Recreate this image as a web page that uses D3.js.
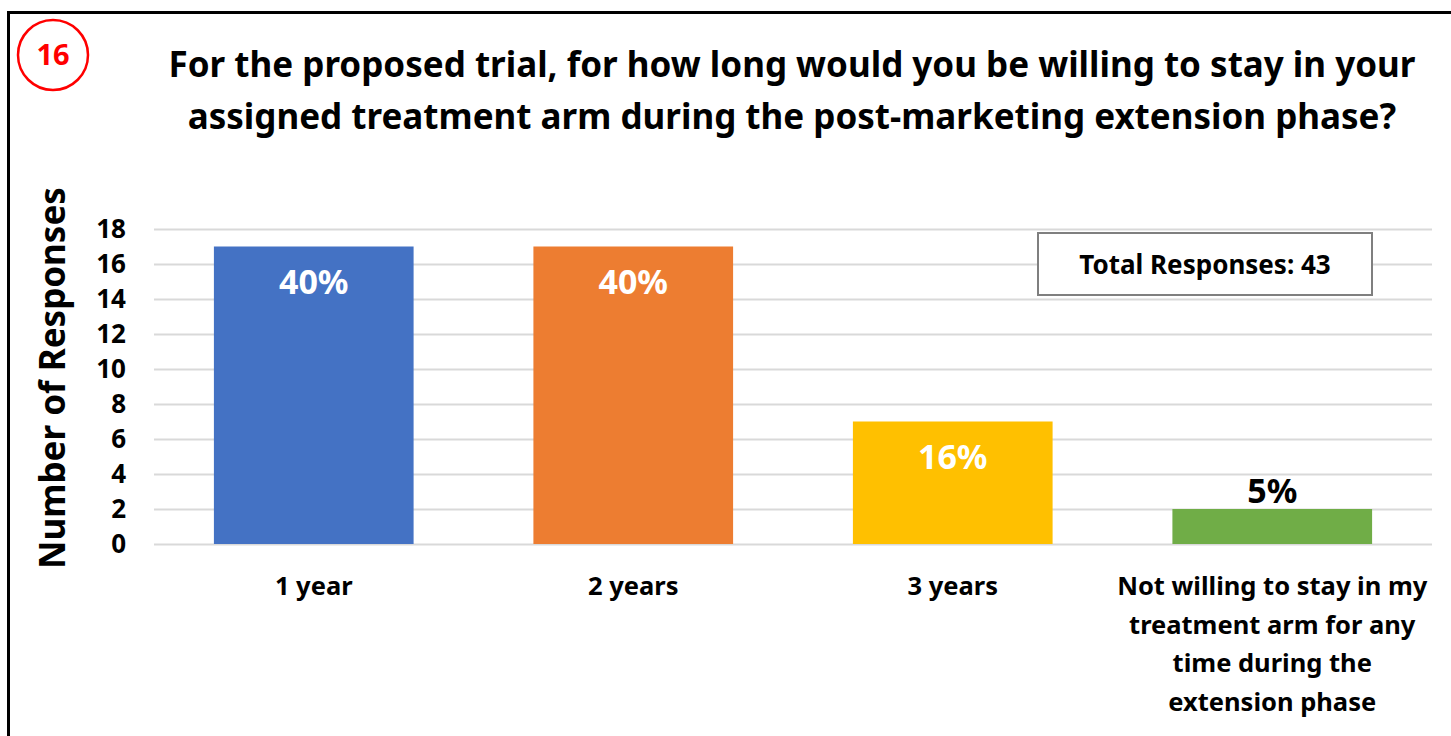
<!DOCTYPE html>
<html>
<head>
<meta charset="utf-8">
<script src="https://cdn.jsdelivr.net/npm/d3@7/dist/d3.min.js"></script>
<style>
  html, body { margin: 0; padding: 0; background: #fff; }
  svg { display: block; }
  text { font-family: "Noto Sans", "Open Sans", sans-serif; font-weight: bold; }
</style>
</head>
<body>
<svg id="chart" width="1451" height="736"></svg>
<script>
// Survey question 16: willingness to stay in assigned arm
const categories = [
  ["1 year"],
  ["2 years"],
  ["3 years"],
  ["Not willing to stay in my", "treatment arm for any", "time during the", "extension phase"]
];
const responses = [17, 17, 7, 2];
const percentLabels = ["40%", "40%", "16%", "5%"];
const barColors = ["#4472C4", "#ED7D31", "#FFC000", "#70AD47"];
const yTicks = [0, 2, 4, 6, 8, 10, 12, 14, 16, 18];
const titleLines = [
  "For the proposed trial, for how long would you be willing to stay in your",
  "assigned treatment arm during the post-marketing extension phase?"
];
const totalResponses = 43;
const questionNumber = "16";

const svg = d3.select("#chart");
const plot = { left: 154, right: 1432, top: 229, bottom: 544 };

// outer frame (continues past the right and bottom edges)
svg.append("rect")
  .attr("x", 8.5).attr("y", 12.5)
  .attr("width", 1500).attr("height", 800)
  .attr("fill", "none").attr("stroke", "#000").attr("stroke-width", 3);

// question number badge
svg.append("circle")
  .attr("cx", 53).attr("cy", 55).attr("r", 35)
  .attr("fill", "none").attr("stroke", "#FF0000").attr("stroke-width", 2.5);
svg.append("text")
  .attr("x", 53).attr("y", 55).attr("dy", "0.36em")
  .attr("text-anchor", "middle")
  .attr("font-size", 29).attr("fill", "#FF0000")
  .text(questionNumber);

// title
svg.append("g").selectAll("text").data(titleLines).join("text")
  .attr("x", 792).attr("y", (d, i) => 64 + i * 52).attr("dy", "0.36em")
  .attr("text-anchor", "middle").attr("font-size", 35).attr("fill", "#000")
  .text(d => d);

const x = d3.scaleBand()
  .domain(d3.range(categories.length))
  .range([plot.left, plot.right])
  .paddingInner(0.375).paddingOuter(0.1875);
const y = d3.scaleLinear().domain([0, 18]).range([plot.bottom, plot.top]);

// gridlines
svg.append("g")
  .attr("transform", `translate(${plot.left},0)`)
  .call(d3.axisLeft(y).tickValues(yTicks).tickSize(-(plot.right - plot.left)).tickFormat(""))
  .call(g => g.select(".domain").remove())
  .call(g => g.selectAll(".tick line").attr("stroke", "#D9D9D9").attr("stroke-width", 2));

// y tick labels
svg.append("g")
  .attr("transform", `translate(126,0)`)
  .call(d3.axisLeft(y).tickValues(yTicks).tickSize(0).tickPadding(0))
  .call(g => g.select(".domain").remove())
  .call(g => g.selectAll(".tick text")
    .attr("font-size", 26).attr("fill", "#000")
    .attr("font-family", "'Noto Sans', sans-serif").attr("font-weight", "bold"));

// y axis title
svg.append("text")
  .attr("transform", `translate(52,${378}) rotate(-90)`)
  .attr("dy", "0.36em")
  .attr("text-anchor", "middle").attr("font-size", 35).attr("fill", "#000")
  .text("Number of Responses");

// bars
svg.append("g").selectAll("rect").data(responses).join("rect")
  .attr("x", (d, i) => x(i))
  .attr("y", d => y(d))
  .attr("width", x.bandwidth())
  .attr("height", d => y(0) - y(d))
  .attr("fill", (d, i) => barColors[i]);

// value labels: inside tall bars, above short ones
svg.append("g").selectAll("text").data(responses).join("text")
  .attr("x", (d, i) => x(i) + x.bandwidth() / 2)
  .attr("y", d => d > 4 ? y(d) + 35 : y(d) - 18)
  .attr("dy", "0.36em")
  .attr("text-anchor", "middle").attr("font-size", 34)
  .attr("fill", d => d > 4 ? "#fff" : "#000")
  .text((d, i) => percentLabels[i]);

// category labels
const catG = svg.append("g");
categories.forEach((lines, i) => {
  catG.append("g").selectAll("text").data(lines).join("text")
    .attr("x", x(i) + x.bandwidth() / 2)
    .attr("y", (d, j) => 586 + j * 38.5)
    .attr("dy", "0.36em")
    .attr("text-anchor", "middle").attr("font-size", 25.5).attr("fill", "#000")
    .text(d => d);
});

// total responses box
svg.append("rect")
  .attr("x", 1038).attr("y", 233).attr("width", 334).attr("height", 62)
  .attr("fill", "#fff").attr("stroke", "#7F7F7F").attr("stroke-width", 2);
svg.append("text")
  .attr("x", 1205).attr("y", 265).attr("dy", "0.36em")
  .attr("text-anchor", "middle").attr("font-size", 26).attr("fill", "#000")
  .text(`Total Responses: ${totalResponses}`);
</script>
</body>
</html>
